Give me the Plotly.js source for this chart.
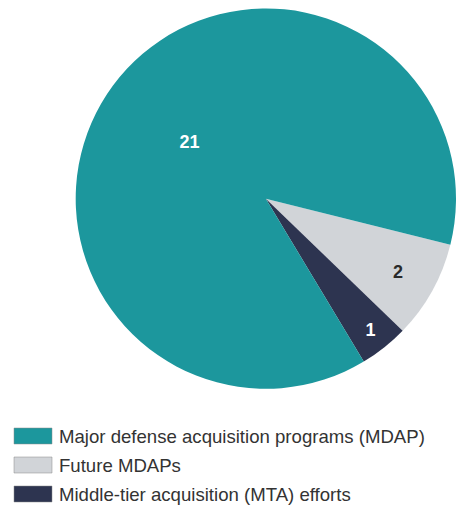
<!DOCTYPE html>
<html>
<head>
<meta charset="utf-8">
<script src="https://cdn.plot.ly/plotly-3.0.1.min.js"></script>
<style>html,body{margin:0;padding:0;background:#fff;}#chart{width:456px;height:508px;}</style>
</head>
<body>
<div id="chart"></div>
<script>
// Data
const labels = ["Future MDAPs", "Middle-tier acquisition (MTA) efforts", "Major defense acquisition programs (MDAP)"];
const values = [2, 1, 21];
const colors = ["#d1d4d8", "#2d3450", "#1c979d"];
const textColors = ["#2a2a2a", "#ffffff", "#ffffff"];
const legendOrder = ["Major defense acquisition programs (MDAP)", "Future MDAPs", "Middle-tier acquisition (MTA) efforts"];

const trace = {
  type: "pie",
  labels: labels,
  values: values,
  sort: false,
  direction: "clockwise",
  rotation: 104,
  marker: { colors: colors, line: { width: 0 } },
  textinfo: "value",
  textposition: "inside",
  insidetextorientation: "horizontal",
  textfont: { family: "Liberation Sans, Arial, sans-serif", size: 18, color: textColors, weight: "bold" },
  hoverinfo: "none",
  domain: { x: [0.166, 1], y: [0.234, 0.984] },
  showlegend: false
};

// custom legend built from labels/colors
const shapes = [];
const annotations = [];
const rowY0 = 436, rowStep = 29;
legendOrder.forEach((lab, i) => {
  const idx = labels.indexOf(lab);
  const cy = rowY0 + i * rowStep;
  shapes.push({
    type: "rect", xref: "paper", yref: "paper",
    x0: 14 / 456, x1: 52 / 456,
    y0: 1 - (cy + 8) / 508, y1: 1 - (cy - 8) / 508,
    fillcolor: colors[idx],
    line: { color: "#888888", width: 0.5 }
  });
  annotations.push({
    xref: "paper", yref: "paper",
    x: 57 / 456, y: 1 - cy / 508,
    xanchor: "left", yanchor: "middle",
    text: lab, showarrow: false,
    font: { family: "Liberation Sans, Arial, sans-serif", size: 18.6, color: "#333333" }
  });
});

const layout = {
  width: 456, height: 508,
  margin: { l: 0, r: 0, t: 0, b: 0 },
  paper_bgcolor: "#ffffff",
  showlegend: false,
  shapes: shapes,
  annotations: annotations
};

Plotly.newPlot("chart", [trace], layout, { displayModeBar: false, staticPlot: true });
</script>
</body>
</html>
